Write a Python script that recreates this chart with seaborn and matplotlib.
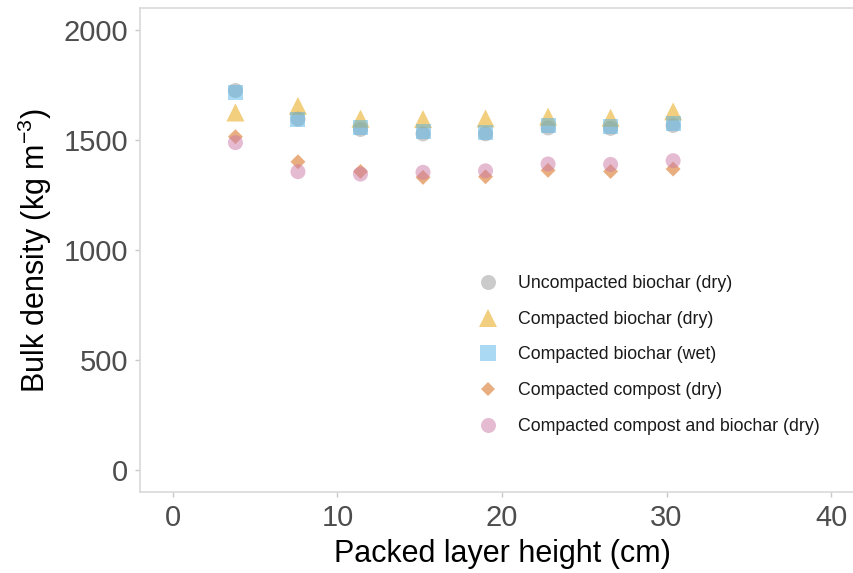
import numpy as np
import pandas as pd
import matplotlib
matplotlib.use("Agg")
import matplotlib.pyplot as plt
import seaborn as sns

# Packed layer heights (cm) and measured bulk densities (kg m^-3)
height = [3.8, 7.6, 11.4, 15.2, 19.0, 22.8, 26.6, 30.4]
uncompacted_dry = [1725, 1595, 1548, 1528, 1528, 1555, 1553, 1566]
compacted_dry = [1625, 1655, 1597, 1595, 1598, 1606, 1601, 1630]
compacted_wet = [1715, 1591, 1558, 1538, 1535, 1564, 1561, 1573]
compost_dry = [1515, 1401, 1357, 1330, 1333, 1362, 1357, 1368]
compost_biochar_dry = [1488, 1356, 1345, 1353, 1360, 1391, 1389, 1406]

treatments = [
    "Uncompacted biochar (dry)",
    "Compacted biochar (dry)",
    "Compacted biochar (wet)",
    "Compacted compost (dry)",
    "Compacted compost and biochar (dry)",
]
series = [uncompacted_dry, compacted_dry, compacted_wet, compost_dry, compost_biochar_dry]

df = pd.concat(
    [pd.DataFrame({"height": height, "density": vals, "treatment": name})
     for name, vals in zip(treatments, series)],
    ignore_index=True,
)

colors = dict(zip(treatments, ["#999999", "#E69F00", "#56B4E9", "#D55E00", "#CC79A7"]))
markers = dict(zip(treatments, ["o", "^", "s", "D", "o"]))
sizes = dict(zip(treatments, [117, 169, 117, 58, 117]))

sns.set_theme(style="white")
plt.rcParams["font.family"] = ["Liberation Sans", "DejaVu Sans"]
plt.rcParams["mathtext.fontset"] = "custom"
plt.rcParams["mathtext.rm"] = "Liberation Sans"
plt.rcParams["mathtext.it"] = "Liberation Sans:italic"
plt.rcParams["mathtext.bf"] = "Liberation Sans:bold"

fig = plt.figure(figsize=(8.54, 5.73), dpi=100)
ax = fig.add_axes([140 / 854, 81 / 573, 724 / 854, 484 / 573])

sns.scatterplot(
    data=df, x="height", y="density",
    hue="treatment", style="treatment", size="treatment",
    hue_order=treatments, style_order=treatments, size_order=treatments,
    palette=colors, markers=markers, sizes=sizes,
    alpha=0.5, linewidth=0, ax=ax, legend=True,
)

ax.set_xlim(-2, 42)
ax.set_ylim(-100, 2100)
ax.set_xticks([0, 10, 20, 30, 40])
ax.set_yticks([0, 500, 1000, 1500, 2000])

spine_col = "#d9d9d9"
for side in ["top", "left", "bottom"]:
    ax.spines[side].set_visible(True)
    ax.spines[side].set_color(spine_col)
    ax.spines[side].set_linewidth(1.2)
ax.spines["right"].set_visible(False)

ax.tick_params(axis="both", which="major", direction="out", length=3.5, width=1.0,
               color="#c8c8c8", labelcolor="#4d4d4d", labelsize=21, pad=5,
               bottom=True, left=True)

ax.set_xlabel("Packed layer height (cm)", fontsize=22, color="black", labelpad=5)
ax.set_ylabel(r"Bulk density (kg m$^{-3}$)", fontsize=22, color="black", labelpad=7)

handles, labels = ax.get_legend_handles_labels()
for h in handles:
    h.set_alpha(0.5)
leg = ax.legend(
    handles, labels, loc="upper left", bbox_to_anchor=(463 / 854, 1 - 268 / 573),
    bbox_transform=fig.transFigure, frameon=False, fontsize=12.8,
    labelspacing=1.05, handletextpad=0.7, borderaxespad=0, markerscale=1.0,
)
for t in leg.get_texts():
    t.set_color("#1a1a1a")

fig.savefig("out.png", dpi=100)
